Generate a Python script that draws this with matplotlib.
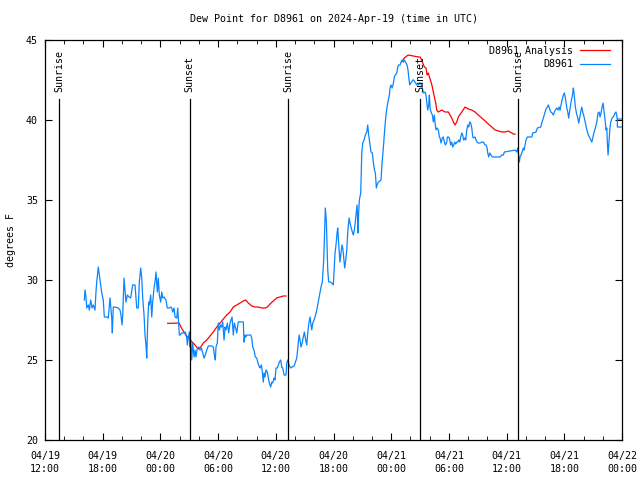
"""Dew point at station D8961, observed vs analysis, with sunrise/sunset marks."""
import numpy as np
import pandas as pd
import matplotlib
matplotlib.use("Agg")
import matplotlib.pyplot as plt
import matplotlib.dates as mdates

START = pd.Timestamp("2024-04-19 12:00")

# observed dew point: hours after START, degrees F
obs_hours = [
    4.09, 4.16, 4.26, 4.34, 4.50, 4.61, 4.75, 4.89, 5.02, 5.20, 5.30, 5.38, 5.54, 5.65, 5.79, 5.90,
    6.06, 6.17, 6.42, 6.58, 6.76, 6.94, 7.00, 7.10, 7.28, 7.62, 7.80, 7.90, 8.01, 8.08, 8.22, 8.32,
    8.42, 8.56, 8.74, 8.91, 9.12, 9.36, 9.54, 9.70, 9.81, 9.95, 10.06, 10.16, 10.30, 10.40, 10.50,
    10.58, 10.68, 10.78, 10.85, 10.99, 11.10, 11.20, 11.34, 11.44, 11.54, 11.68, 11.78, 11.89,
    12.03, 12.14, 12.24, 12.38, 12.58, 12.72, 12.93, 13.07, 13.18, 13.28, 13.42, 13.52, 13.70,
    13.80, 13.86, 13.97, 14.04, 14.22, 14.46, 14.59, 14.74, 14.80, 14.90, 15.01, 15.08, 15.15,
    15.26, 15.36, 15.50, 15.60, 15.70, 15.84, 15.98, 16.12, 16.26, 16.40, 16.54, 16.67, 16.82,
    16.98, 17.34, 17.50, 17.61, 17.71, 17.78, 17.92, 18.02, 18.13, 18.27, 18.38, 18.48, 18.62,
    18.72, 18.82, 18.96, 19.10, 19.24, 19.34, 19.45, 19.58, 19.69, 19.83, 19.94, 20.10, 20.62,
    20.70, 20.80, 20.90, 20.98, 21.39, 21.50, 21.60, 21.74, 21.87, 22.02, 22.15, 22.29, 22.36,
    22.50, 22.60, 22.70, 22.78, 22.88, 22.98, 23.12, 23.22, 23.33, 23.47, 23.58, 23.68, 23.82,
    23.92, 24.02, 24.16, 24.26, 24.37, 24.51, 24.62, 24.72, 24.86, 25.06, 25.14, 25.24, 25.38,
    25.55, 25.69, 25.90, 26.18, 26.28, 26.42, 26.52, 26.62, 26.76, 26.86, 26.97, 27.11, 27.22,
    27.32, 27.46, 27.56, 27.66, 27.74, 27.84, 27.98, 28.08, 28.26, 28.36, 28.50, 28.60, 28.70,
    28.84, 28.98, 29.05, 29.15, 29.26, 29.33, 29.40, 29.50, 29.64, 29.82, 29.98, 30.06, 30.16,
    30.26, 30.37, 30.44, 30.50, 30.58, 30.68, 30.78, 30.89, 30.99, 31.10, 31.17, 31.27, 31.38,
    31.48, 31.62, 31.72, 31.82, 31.96, 32.06, 32.17, 32.27, 32.38, 32.45, 32.52, 32.55, 32.62,
    32.69, 32.83, 32.94, 33.04, 33.18, 33.31, 33.46, 33.56, 33.66, 33.80, 33.90, 34.04, 34.14,
    34.25, 34.35, 34.46, 34.53, 34.66, 34.84, 34.94, 35.05, 35.15, 35.26, 35.36, 35.46, 35.57,
    35.70, 35.81, 35.88, 35.98, 36.09, 36.19, 36.33, 36.43, 36.58, 36.68, 36.78, 36.92, 37.02,
    37.13, 37.26, 37.37, 37.47, 37.54, 37.65, 37.75, 37.82, 37.93, 38.03, 38.14, 38.24, 38.34,
    38.45, 38.55, 38.66, 38.82, 39.00, 39.14, 39.24, 39.34, 39.52, 39.62, 39.73, 39.80, 39.90,
    39.97, 40.04, 40.14, 40.28, 40.38, 40.49, 40.56, 40.66, 40.77, 40.90, 41.01, 41.08, 41.18,
    41.32, 41.42, 41.53, 41.63, 41.78, 41.84, 41.94, 42.05, 42.19, 42.30, 42.40, 42.50, 42.61,
    42.71, 42.82, 42.92, 43.02, 43.13, 43.23, 43.34, 43.44, 43.54, 43.65, 43.75, 43.86, 43.96,
    44.06, 44.17, 44.27, 44.38, 44.48, 44.58, 44.72, 44.82, 44.93, 45.06, 45.24, 45.42, 45.58,
    45.76, 45.86, 45.97, 46.04, 46.14, 46.25, 46.38, 46.52, 47.32, 47.50, 47.66, 47.77, 48.88,
    49.06, 49.16, 49.33, 49.40, 49.50, 49.61, 49.74, 49.82, 49.92, 50.02, 50.16, 50.62, 50.72,
    51.06, 51.20, 51.55, 51.69, 51.82, 51.97, 52.10, 52.24, 52.34, 52.45, 52.59, 52.73, 52.86,
    52.97, 53.07, 53.22, 53.35, 53.46, 53.56, 53.66, 53.77, 53.90, 54.01, 54.11, 54.26, 54.36,
    54.46, 54.53, 54.60, 54.74, 54.81, 54.88, 54.94, 55.05, 55.15, 55.26, 55.40, 55.50, 55.61,
    55.71, 55.82, 55.92, 56.06, 56.19, 56.34, 56.50, 56.61, 56.75, 56.86, 56.96, 57.10, 57.23,
    57.38, 57.51, 57.62, 57.72, 57.82, 57.93, 58.03, 58.14, 58.24, 58.34, 58.42, 58.48, 58.55,
    58.62, 58.73, 58.83, 58.97, 59.10, 59.28, 59.38, 59.52, 60.50, 60.50, 59.52, 59.52,
]
obs_dewpt = [
    28.75, 29.38, 28.94, 28.25, 28.44, 28.12, 28.75, 28.25, 28.44, 28.12, 29.25, 29.88, 30.81, 30.31,
    29.69, 29.19, 28.75, 27.69, 27.69, 27.62, 28.88, 27.62, 26.69, 28.31, 28.31, 28.25, 28.12, 27.81,
    27.19, 27.81, 30.12, 29.38, 28.62, 29.06, 28.94, 28.88, 29.69, 29.69, 28.25, 28.25, 29.88, 30.75,
    30.12, 28.88, 27.81, 26.56, 25.94, 25.12, 27.38, 28.62, 28.44, 29.06, 27.69, 28.62, 29.50, 29.88,
    30.50, 29.25, 30.12, 29.06, 28.62, 29.25, 28.88, 28.94, 28.75, 28.25, 28.25, 28.31, 28.25, 28.00,
    28.25, 27.69, 27.62, 28.25, 27.69, 26.56, 26.56, 26.69, 26.69, 26.75, 26.38, 25.94, 26.38, 26.75,
    25.81, 26.25, 25.00, 26.06, 25.19, 25.62, 25.19, 25.75, 25.81, 25.62, 25.75, 25.44, 25.12, 25.31,
    25.62, 25.88, 25.88, 25.81, 25.31, 25.00, 25.81, 26.06, 27.31, 26.88, 27.19, 27.06, 27.38, 26.25,
    27.06, 26.88, 27.31, 26.69, 27.31, 27.50, 27.69, 26.56, 27.31, 27.00, 26.69, 27.38, 27.38, 26.12,
    26.56, 26.44, 26.56, 26.56, 26.38, 25.81, 25.62, 25.19, 25.12, 24.81, 24.56, 24.50, 24.69, 24.25,
    23.62, 24.19, 23.94, 24.38, 24.25, 23.88, 23.56, 23.31, 23.62, 23.56, 23.88, 23.75, 24.50, 24.50,
    24.69, 24.88, 25.00, 24.56, 24.50, 24.06, 24.06, 24.81, 25.00, 24.69, 24.50, 24.56, 24.62, 25.12,
    25.75, 26.56, 26.25, 25.81, 26.12, 26.44, 26.75, 26.25, 25.94, 26.69, 27.38, 27.69, 27.19, 26.88,
    27.31, 27.50, 27.69, 28.12, 28.44, 28.88, 29.19, 29.56, 29.88, 31.25, 32.50, 34.50, 33.62, 32.19,
    30.62, 29.88, 29.88, 29.81, 29.69, 30.62, 31.69, 32.19, 32.94, 33.25, 32.62, 31.88, 31.12, 31.69,
    32.19, 31.88, 31.12, 30.75, 31.25, 31.88, 33.00, 33.88, 33.56, 33.31, 33.00, 32.81, 33.12, 33.62,
    34.25, 34.69, 33.62, 32.94, 34.25, 35.00, 35.44, 37.94, 38.56, 38.75, 39.06, 39.25, 39.69, 39.06,
    38.44, 38.00, 37.94, 37.38, 36.88, 36.69, 35.75, 35.94, 36.12, 36.19, 36.25, 37.31, 38.00, 38.88,
    39.69, 40.31, 40.81, 41.25, 41.56, 42.00, 42.19, 42.00, 42.19, 42.69, 42.81, 42.94, 43.31, 43.44,
    43.44, 43.62, 43.75, 43.62, 43.75, 43.62, 43.56, 43.44, 43.12, 42.69, 42.19, 42.31, 42.38, 42.50,
    42.50, 42.38, 42.31, 42.19, 42.19, 42.31, 42.19, 42.00, 41.69, 41.75, 41.56, 40.94, 40.62, 40.94,
    41.56, 40.75, 40.50, 40.31, 39.88, 40.31, 39.81, 39.38, 39.50, 39.38, 38.94, 38.88, 38.56, 38.88,
    38.94, 38.62, 38.44, 38.62, 38.94, 38.94, 38.88, 38.44, 38.62, 38.31, 38.44, 38.62, 38.50, 38.62,
    38.62, 38.75, 38.62, 38.94, 39.19, 39.06, 38.75, 38.88, 38.75, 39.38, 39.69, 39.56, 39.88, 39.81,
    39.50, 38.94, 38.88, 38.94, 38.75, 38.62, 38.56, 38.56, 38.62, 38.62, 38.44, 38.44, 38.25, 37.94,
    37.69, 37.94, 37.81, 37.69, 37.69, 37.81, 37.81, 38.00, 38.12, 38.00, 38.25, 37.38, 37.69, 37.81,
    38.00, 38.25, 38.12, 38.44, 38.75, 38.94, 38.94, 39.19, 39.25, 39.50, 39.56, 39.88, 40.12, 40.44,
    40.69, 40.81, 40.94, 40.75, 40.50, 40.44, 40.31, 40.50, 40.62, 40.75, 40.62, 40.81, 40.62, 40.94,
    41.25, 41.56, 41.69, 41.38, 40.75, 40.50, 40.12, 40.44, 40.75, 41.25, 41.44, 41.69, 42.00, 41.44,
    40.81, 40.44, 40.12, 39.81, 40.19, 40.50, 40.81, 40.50, 40.19, 39.81, 39.38, 39.06, 38.94, 38.75,
    38.62, 38.88, 39.25, 39.50, 39.88, 40.44, 40.50, 40.19, 40.44, 40.81, 41.06, 40.50, 40.00, 39.38,
    39.50, 38.56, 37.81, 38.44, 39.38, 39.88, 40.12, 40.19, 40.44, 40.50, 40.06, 40.06, 39.56, 39.56,
    40.06,
]

# analysis dew point, two pieces
ana1_hours = [
    12.76, 13.94, 14.14, 14.38, 14.74, 15.08, 15.42, 15.78, 15.94, 16.19, 16.46, 16.82, 17.16, 17.50,
    17.86, 18.20, 18.54, 18.90, 19.24, 19.58, 19.94, 20.28, 20.62, 20.87, 21.14, 21.50, 21.84, 22.18,
    22.54, 22.88, 23.12, 23.40, 23.74, 24.10, 24.44, 24.78, 25.06,
]
ana1_dewpt = [
    27.29, 27.31, 27.06, 26.81, 26.50, 26.25, 26.06, 25.81, 25.69, 25.81, 26.06, 26.25, 26.50, 26.75,
    27.06, 27.31, 27.56, 27.81, 28.00, 28.31, 28.44, 28.56, 28.69, 28.75, 28.56, 28.38, 28.31, 28.31,
    28.25, 28.25, 28.31, 28.50, 28.69, 28.88, 28.94, 29.00, 29.00,
]
ana2_hours = [
    37.10, 37.37, 37.62, 37.78, 38.30, 38.82, 39.00, 39.18, 39.28, 39.45, 39.62, 39.73, 39.86, 39.97,
    40.14, 40.28, 40.38, 40.49, 40.63, 40.74, 40.90, 41.26, 41.60, 41.94, 42.12, 42.30, 42.46, 42.64,
    42.82, 42.98, 43.34, 43.68, 44.02, 44.38, 44.72, 45.06, 45.42, 45.76, 46.10, 46.46, 46.80, 47.14,
    47.50, 47.84, 48.18, 48.36, 48.54, 48.70, 48.88,
]
ana2_dewpt = [
    43.64, 43.88, 44.00, 44.06, 44.00, 43.94, 43.94, 43.75, 43.56, 43.31, 43.25, 42.81, 42.94, 42.69,
    42.38, 42.06, 41.75, 41.44, 41.06, 40.62, 40.50, 40.62, 40.50, 40.50, 40.31, 40.12, 39.88, 39.69,
    39.88, 40.19, 40.50, 40.81, 40.69, 40.62, 40.50, 40.31, 40.12, 39.94, 39.75, 39.56, 39.38, 39.31,
    39.25, 39.25, 39.31, 39.25, 39.19, 39.12, 39.12,
]

sun_events = ["2024-04-19 13:28", "2024-04-20 03:02", "2024-04-20 13:19",
              "2024-04-21 03:00", "2024-04-21 13:14"]
sun_labels = ["Sunrise", "Sunset", "Sunrise", "Sunset", "Sunrise"]


def to_times(hours):
    return START + pd.to_timedelta(np.asarray(hours), unit="h")


FS = 7.2
plt.rcParams["font.family"] = ["DejaVu Sans Mono"]
plt.rcParams["font.size"] = FS

fig = plt.figure(figsize=(6.4, 4.8), dpi=100)
ax = fig.add_axes([45 / 640, 40 / 480, 577 / 640, 400 / 480])

ax.plot(to_times(ana1_hours), ana1_dewpt, color="#ff0000", lw=0.9, label="D8961 Analysis")
ax.plot(to_times(ana2_hours), ana2_dewpt, color="#ff0000", lw=0.9)
ax.plot(to_times(obs_hours), obs_dewpt, color="#0a84ff", lw=0.9, label="D8961")

for when, name in zip(sun_events, sun_labels):
    t = pd.Timestamp(when)
    ax.plot([t, t], [20, 41.3], color="black", lw=0.9)
    ax.text(t, 41.75, name, rotation=90, ha="center", va="bottom", fontsize=FS)

ax.set_xlim(pd.Timestamp("2024-04-19 12:00"), pd.Timestamp("2024-04-22 00:00"))
ax.set_ylim(20, 45)
ax.set_yticks([20, 25, 30, 35, 40, 45])
ax.xaxis.set_major_locator(mdates.HourLocator(byhour=[0, 6, 12, 18]))
ax.xaxis.set_minor_locator(mdates.HourLocator(interval=2))
ax.xaxis.set_major_formatter(mdates.DateFormatter("%m/%d\n%H:%M"))
ax.tick_params(which="both", direction="in", top=True, right=True, labelsize=FS)
ax.tick_params(axis="x", pad=8)
ax.tick_params(axis="y", pad=5)
ax.tick_params(which="major", length=5)
ax.tick_params(which="minor", length=3)
for lab in ax.get_xticklabels():
    lab.set_linespacing(1.35)
for s in ax.spines.values():
    s.set_linewidth(0.9)

ax.set_ylabel("degrees F", fontsize=FS)
ax.yaxis.set_label_coords(-0.051, 0.5)
ax.set_title("Dew Point for D8961 on 2024-Apr-19 (time in UTC)", fontsize=FS, pad=13)
ax.legend(loc="upper right", bbox_to_anchor=(0.986, 0.995), frameon=False, markerfirst=False,
          fontsize=FS, handlelength=3.0, borderaxespad=0, labelspacing=0.35, handletextpad=0.7)

fig.savefig("out.png", dpi=100)
